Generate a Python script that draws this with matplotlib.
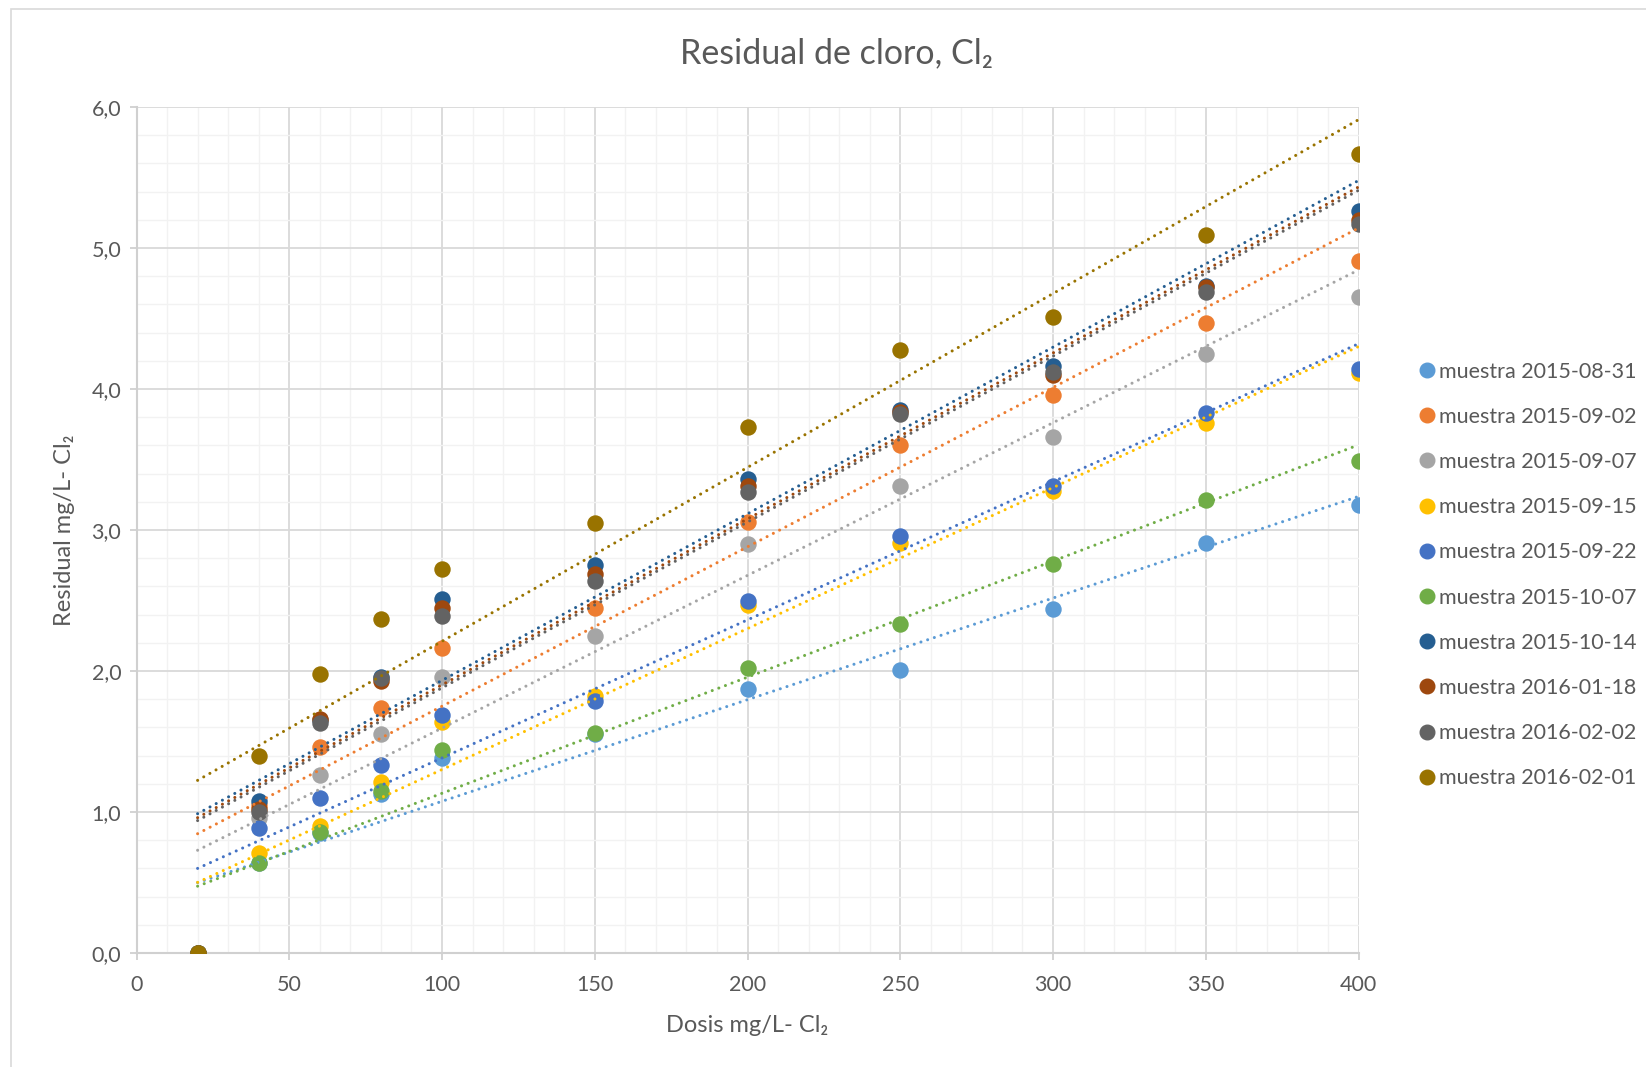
import numpy as np
import matplotlib
matplotlib.use("Agg")
import matplotlib.pyplot as plt
from matplotlib.ticker import MultipleLocator, FuncFormatter
from matplotlib.patches import Rectangle
from matplotlib.lines import Line2D

plt.rcParams['font.family'] = ['Lato', 'DejaVu Sans']

# dosis (mg/L Cl2)
dosis = [20, 40, 60, 80, 100, 150, 200, 250, 300, 350, 400]

# residual por muestra
m_2015_08_31 = [0, 0.64, 0.85, 1.13, 1.38, 1.55, 1.87, 2.01, 2.44, 2.91, 3.18]
m_2015_09_02 = [0, 1.05, 1.46, 1.74, 2.16, 2.45, 3.06, 3.60, 3.96, 4.47, 4.91]
m_2015_09_07 = [0, 0.96, 1.26, 1.55, 1.96, 2.25, 2.90, 3.31, 3.66, 4.25, 4.65]
m_2015_09_15 = [0, 0.71, 0.90, 1.21, 1.64, 1.82, 2.47, 2.91, 3.28, 3.76, 4.11]
m_2015_09_22 = [0, 0.89, 1.10, 1.33, 1.69, 1.79, 2.50, 2.96, 3.31, 3.83, 4.14]
m_2015_10_07 = [0, 0.64, 0.86, 1.15, 1.44, 1.56, 2.02, 2.33, 2.76, 3.21, 3.49]
m_2015_10_14 = [0, 1.08, 1.65, 1.96, 2.51, 2.75, 3.36, 3.85, 4.16, 4.73, 5.26]
m_2016_01_18 = [0, 1.02, 1.66, 1.93, 2.45, 2.69, 3.31, 3.84, 4.10, 4.72, 5.20]
m_2016_02_02 = [0, 1.00, 1.63, 1.95, 2.39, 2.64, 3.27, 3.82, 4.12, 4.69, 5.17]
m_2016_02_01 = [0, 1.40, 1.98, 2.37, 2.72, 3.05, 3.73, 4.28, 4.51, 5.09, 5.67]

labels = ['muestra 2015-08-31', 'muestra 2015-09-02', 'muestra 2015-09-07',
          'muestra 2015-09-15', 'muestra 2015-09-22', 'muestra 2015-10-07',
          'muestra 2015-10-14', 'muestra 2016-01-18', 'muestra 2016-02-02',
          'muestra 2016-02-01']
series = [m_2015_08_31, m_2015_09_02, m_2015_09_07, m_2015_09_15, m_2015_09_22,
          m_2015_10_07, m_2015_10_14, m_2016_01_18, m_2016_02_02, m_2016_02_01]
colors = ['#5B9BD5', '#ED7D31', '#A5A5A5', '#FFC000', '#4472C4',
          '#70AD47', '#255E91', '#9E480E', '#636363', '#997300']

txt = '#595959'
W, H = 1646, 1067
fig = plt.figure(figsize=(W / 100, H / 100), dpi=100)
ax = fig.add_axes([136.5 / W, 1 - 953 / H, 1222 / W, 846 / H])

# chart border
fig.patches.append(Rectangle((11 / W, -0.1), 1.2, 1 - 9 / H + 0.1,
                             transform=fig.transFigure, fill=False,
                             edgecolor='#D9D9D9', lw=1.2, zorder=0))

x = np.array(dosis, dtype=float)
handles = []
for ys, c, lab in zip(series, colors, labels):
    ax.scatter(x, ys, s=140, color=c, zorder=3, linewidths=0)
    handles.append(Line2D([], [], marker='o', ls='', color=c, markersize=10.5, label=lab))

# linear trendlines on top of the markers
for ys, c in zip(series, colors):
    k, b = np.polyfit(x, ys, 1)
    xx = np.array([x.min(), x.max()])
    ax.plot(xx, k * xx + b, color=c, lw=2.2, ls=(0, (0.01, 2.3)),
            dash_capstyle='round', zorder=4)

ax.set_xlim(0, 400)
ax.set_ylim(0, 6)
ax.xaxis.set_major_locator(MultipleLocator(50))
ax.xaxis.set_minor_locator(MultipleLocator(10))
ax.yaxis.set_major_locator(MultipleLocator(1))
ax.yaxis.set_minor_locator(MultipleLocator(0.2))
ax.yaxis.set_major_formatter(FuncFormatter(lambda v, p: f"{v:.1f}".replace('.', ',')))

ax.grid(which='major', color='#D9D9D9', lw=1.3, zorder=0)
ax.grid(which='minor', color='#F2F2F2', lw=1.0, zorder=0)
ax.set_axisbelow(True)
for s in ['top', 'right']:
    ax.spines[s].set_visible(False)
for s in ['left', 'bottom']:
    ax.spines[s].set_color('#D0D0D0')
    ax.spines[s].set_linewidth(1.5)
ax.tick_params(which='major', length=5, color='#D0D0D0', width=1.3,
               labelsize=15.5, labelcolor=txt)
ax.tick_params(axis='x', pad=11)
ax.tick_params(axis='y', pad=6)
ax.tick_params(which='minor', length=0)

ax.set_xlabel('Dosis mg/L- Cl₂', fontsize=17, color=txt, labelpad=14)
ax.set_ylabel('Residual mg/L- Cl₂', fontsize=17, color=txt, labelpad=12)
fig.text(837 / W, 1 - 53 / H, 'Residual de cloro, Cl₂', fontsize=24.5,
         color=txt, ha='center', va='center')

fig.legend(handles=handles, loc='center left', bbox_to_anchor=(1405 / W, 1 - 575 / H),
           frameon=False, fontsize=15.5, labelcolor=txt, handletextpad=0.1,
           labelspacing=1.17, handlelength=1.0, borderpad=0)

fig.savefig('out.png', dpi=100)
